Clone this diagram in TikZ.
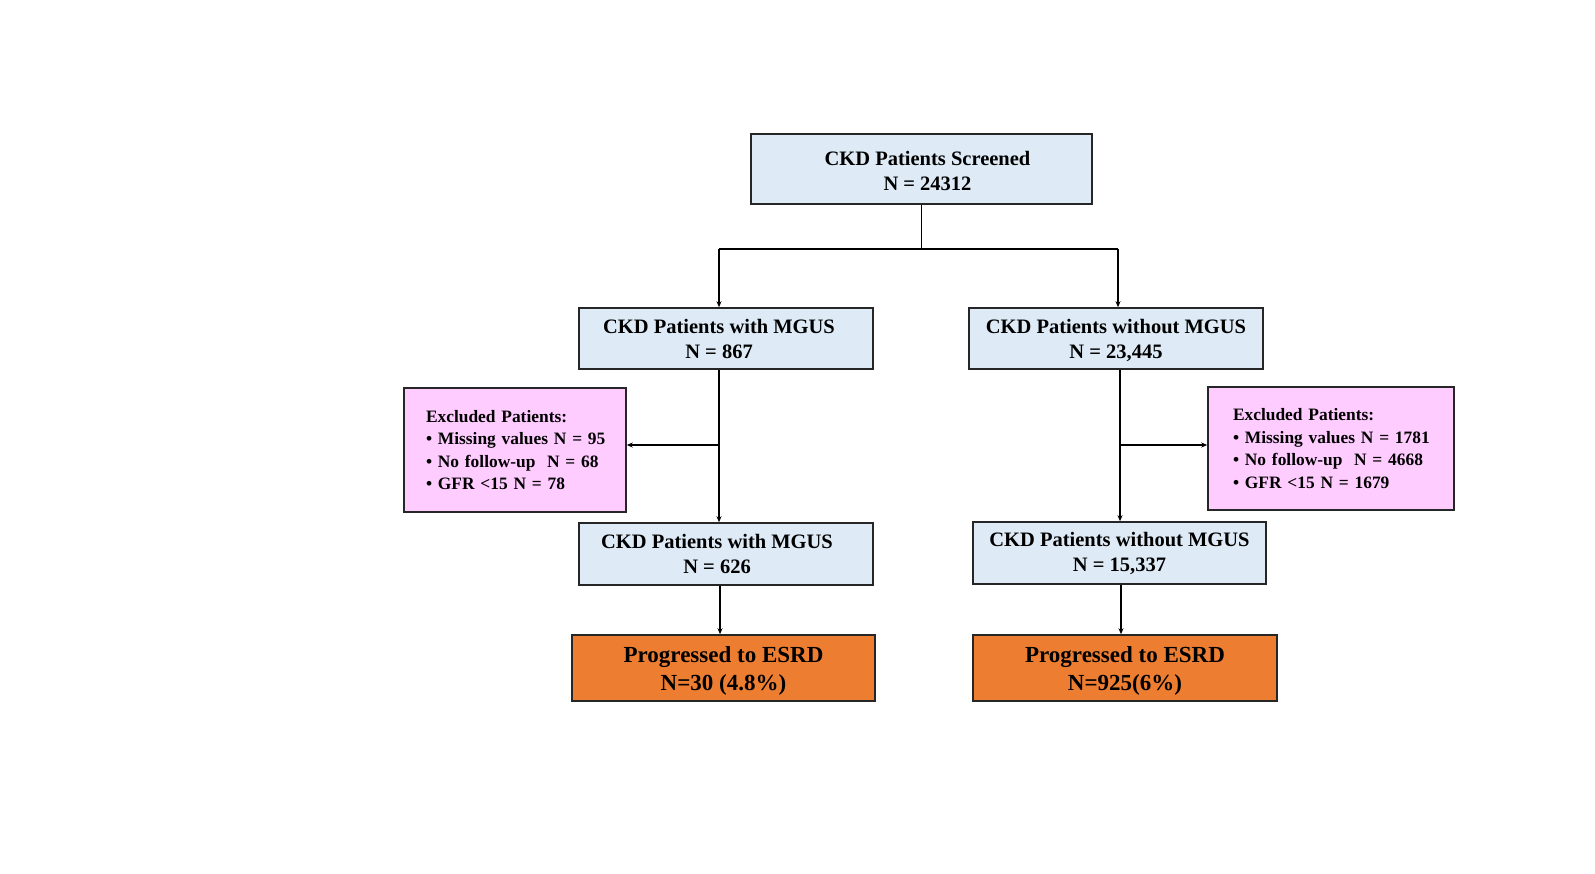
\documentclass[tikz,border=0pt]{standalone}
\usepackage{fontspec}
\setmainfont{Liberation Serif}
\usetikzlibrary{arrows.meta}
\definecolor{boxblue}{HTML}{DEEBF7}
\definecolor{boxpink}{HTML}{FFCCFF}
\definecolor{boxorange}{HTML}{ED7D31}
\newcommand{\Rl}[1]{\hspace*{#1pt}}
\newcommand{\Up}[1]{\rule{0pt}{#1pt}}
\begin{document}
\begin{tikzpicture}[x=1pt,y=-1pt,
  base/.style={draw=black!85, line width=1.6pt, inner sep=0pt, align=center, font=\bfseries},
  bluebox/.style={base, fill=boxblue, font=\bfseries\fontsize{20.5}{25}\selectfont},
  pinkbox/.style={base, fill=boxpink, align=left, font=\bfseries\fontsize{17.4}{22.4}\selectfont},
  orangebox/.style={base, fill=boxorange, font=\bfseries\fontsize{23}{27.5}\selectfont},
  conn/.style={line width=1.3pt, draw=black},
  arr/.style={conn, -{Stealth[length=6pt,width=5pt]}}]
\useasboundingbox (0,0) rectangle (1595,873);
\fill[white] (0,0) rectangle (1595,873);

\node[bluebox, minimum width=341pt, minimum height=70pt] (top) at (921.5,169) {\Rl{12}\Up{18.5}CKD Patients Screened\\\Rl{12}N = 24312};
\node[bluebox, minimum width=294pt, minimum height=61pt] (mgusL) at (726,338.5) {CKD Patients with MGUS\Rl{14}\\N = 867\Rl{14}};
\node[bluebox, minimum width=294pt, minimum height=61pt] (mgusR) at (1116,338.5) {\Up{18.5}CKD Patients without MGUS\\N = 23,445};
\node[pinkbox, minimum width=222pt, minimum height=124pt, text width=206pt] (exL) at (515,450) {\Rl{14}Excluded Patients:\\\Rl{14}\textbullet{} Missing values N = 95\\\Rl{14}\textbullet{} No follow-up\ \ N = 68\\\Rl{14}\textbullet{} GFR {<}15 N = 78};
\node[pinkbox, minimum width=246pt, minimum height=123pt, text width=230pt] (exR) at (1331,448.5) {\Rl{17}Excluded Patients:\\\Rl{17}\textbullet{} Missing values N = 1781\\\Rl{17}\textbullet{} No follow-up\ \ N = 4668\\\Rl{17}\textbullet{} GFR {<}15 N = 1679};
\node[bluebox, minimum width=294pt, minimum height=62pt] (keepL) at (726,554) {CKD Patients with MGUS\Rl{18}\\N = 626\Rl{18}};
\node[bluebox, minimum width=293pt, minimum height=62pt] (keepR) at (1119.5,553) {CKD Patients without MGUS\\N = 15,337};
\node[orangebox, minimum width=303pt, minimum height=66pt] (esrdL) at (723.5,668) {\Up{22}Progressed to ESRD\\N=30 (4.8\%)};
\node[orangebox, minimum width=304pt, minimum height=66pt] (esrdR) at (1125,668) {\Up{22}Progressed to ESRD\\N=925(6\%)};

\coordinate (bL) at (719,249);
\coordinate (bR) at (1118,249);
\coordinate (vR) at (1120,0);
\coordinate (lL) at (720,0);
\coordinate (lR) at (1121,0);

\draw[conn] (top.south) -- (top.south |- bL);
\draw[conn] (bL) -- (bR);
\draw[arr] (bL) -- (bL |- mgusL.north);
\draw[arr] (bR) -- (bR |- mgusR.north);
\draw[arr] (mgusL.south -| bL) -- (keepL.north -| bL);
\draw[arr] (mgusR.south -| vR) -- (keepR.north -| vR);
\draw[arr] (bL |- 0,445) -- (exL.east |- 0,445);
\draw[arr] (vR |- 0,445) -- (exR.west |- 0,445);
\draw[arr] (keepL.south -| lL) -- (esrdL.north -| lL);
\draw[arr] (keepR.south -| lR) -- (esrdR.north -| lR);
\end{tikzpicture}
\end{document}
